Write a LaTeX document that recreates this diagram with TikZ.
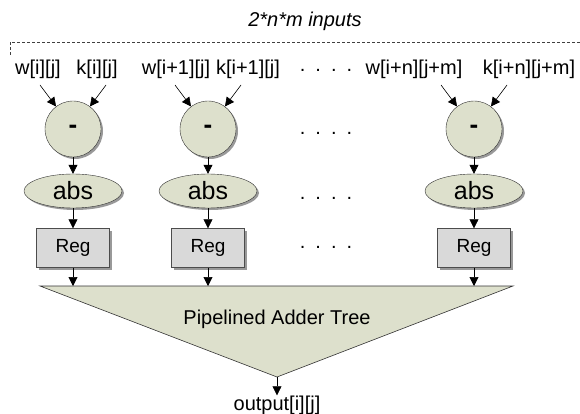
\documentclass[tikz,border=0pt]{standalone}
\usepackage{fontspec}
\setmainfont{Liberation Sans}
\usetikzlibrary{shapes.geometric,arrows.meta,shadows,calc}
\definecolor{sage}{RGB}{221,224,204}
\definecolor{reggray}{RGB}{217,217,217}
\tikzset{
  lbl/.style={font=\fontsize{20}{24}\selectfont, inner sep=0pt, anchor=base},
  shad/.style={drop shadow={shadow xshift=2pt, shadow yshift=-2pt, fill=black!40, opacity=1}},
  diffnode/.style={circle, draw=black!80, fill=sage, minimum size=56pt, inner sep=0pt,
    font=\fontsize{26}{30}\selectfont\bfseries, shad},
  absnode/.style={ellipse, draw=black!80, fill=sage, minimum width=98pt, minimum height=34pt,
    inner sep=0pt, font=\fontsize{25}{30}\selectfont, shad},
  regbox/.style={rectangle, draw=black!70, fill=reggray, minimum width=73pt, minimum height=39pt,
    inner sep=0pt, font=\fontsize{19}{22}\selectfont, shad},
  arr/.style={-{Triangle[width=9pt,length=9pt]}, line width=0.6pt}
}
\begin{document}
\begin{tikzpicture}[x=1pt,y=-1pt]
  \useasboundingbox (0,0) rectangle (580,414);
  % bus of inputs
  \node[lbl, font=\fontsize{20}{24}\selectfont\itshape] (bus) at (305,27) {2*n*m inputs};
  \coordinate (busl) at (10,42);
  \draw[black!75, line width=0.5pt, dash pattern=on 3pt off 2pt] ([yshift=-13pt]busl) -- (busl) -- (580,42);
  % one column per window position
  \foreach \c/\x/\wx/\wt/\kx/\kt in {1/73/38/{w[i][j]}/97/{k[i][j]},
      2/208/176/{w[i+1][j]}/248/{k[i+1][j]},
      3/474/414/{w[i+n][j+m]}/529/{k[i+n][j+m]}} {
    \node[lbl] (w\c) at (\wx,75) {\wt};
    \node[lbl] (k\c) at (\kx,75) {\kt};
    \node[diffnode] (d\c) at (\x,129) {-};
    \node[absnode] (a\c) at (\x,191) {abs};
    \node[regbox] (r\c) at (\x,248) {Reg};
    \draw[arr] ($(d\c)+(-33,-44)$) -- (d\c.127);
    \draw[arr] ($(d\c)+(33,-44)$) -- (d\c.53);
    \draw[arr] (d\c) -- (a\c);
    \draw[arr] (a\c) -- (r\c);
  }
  % the dots between columns
  \foreach \y [count=\i] in {72,135,199,248}
    \node[lbl] (dots\i) at (326,\y) {.\,\,\,.\,\,\,.\,\,\,.};
  % adder tree
  \coordinate (tl) at (40,286);
  \coordinate (tr) at (513,286);
  \coordinate (ta) at (277,377);
  \filldraw[fill=sage, draw=black!80, line width=0.6pt] (tl) -- (tr) -- (ta) -- cycle;
  \node[lbl] (tree) at (277,324) {Pipelined Adder Tree};
  \foreach \c in {1,2,3}
    \draw[arr] (r\c) -- (r\c |- tl);
  \node[lbl] (out) at (277,410) {output[i][j]};
  \draw[arr] (ta) -- (out);
\end{tikzpicture}
\end{document}
